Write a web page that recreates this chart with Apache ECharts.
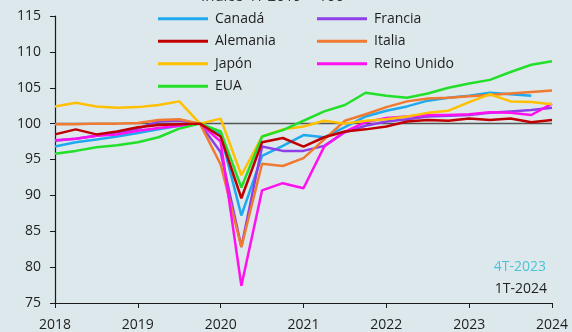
<!DOCTYPE html>
<html>
<head>
<meta charset="utf-8">
<script src="https://cdn.jsdelivr.net/npm/echarts@6/dist/echarts.min.js"></script>
<style>
  html, body { margin: 0; padding: 0; background: #dde8ec; }
  #chart { width: 572px; height: 332px; }
</style>
</head>
<body>
<div id="chart"></div>
<script>
// trimestres 1T-2018 ... 1T-2024 (índice 4T 2019 = 100)
const trimestres = [
  '1T-2018', '2T-2018', '3T-2018', '4T-2018',
  '1T-2019', '2T-2019', '3T-2019', '4T-2019',
  '1T-2020', '2T-2020', '3T-2020', '4T-2020',
  '1T-2021', '2T-2021', '3T-2021', '4T-2021',
  '1T-2022', '2T-2022', '3T-2022', '4T-2022',
  '1T-2023', '2T-2023', '3T-2023', '4T-2023',
  '1T-2024'
];

const canada = [96.8, 97.4, 97.8, 98.2, 98.7, 99.2, 99.7, 100, 98.5, 87.2, 95.5, 96.9, 98.4, 98.1, 99.5, 101.0, 101.8, 102.4, 103.2, 103.6, 103.9, 104.3, 104.1, 103.9, null];
const francia = [97.6, 97.9, 98.3, 98.8, 99.3, 100.3, 100.4, 100, 96.0, 82.8, 96.8, 96.2, 96.2, 96.9, 98.8, 99.7, 100.3, 100.6, 101.0, 101.1, 101.2, 101.5, 101.7, 101.9, 102.2];
const alemania = [98.5, 99.2, 98.5, 98.9, 99.5, 99.8, 99.9, 100, 98.2, 89.6, 97.4, 98.0, 96.8, 98.1, 98.9, 99.2, 99.6, 100.3, 100.5, 100.4, 100.7, 100.5, 100.7, 100.2, 100.5];
const italia = [99.9, 99.9, 100.0, 100.0, 100.1, 100.5, 100.6, 100, 94.3, 82.8, 94.4, 94.1, 95.2, 97.8, 100.4, 101.3, 102.3, 103.1, 103.5, 103.6, 103.8, 104.0, 104.2, 104.4, 104.6];
const japon = [102.4, 102.9, 102.4, 102.2, 102.3, 102.6, 103.1, 100, 100.7, 92.8, 98.2, 99.2, 99.6, 100.4, 100.0, 100.4, 100.6, 101.0, 101.5, 101.8, 103.0, 104.1, 103.1, 103.0, 102.7];
const reinoUnido = [97.7, 97.9, 98.3, 98.5, 99.0, 99.4, 99.7, 100, 97.5, 77.4, 90.7, 91.7, 91.0, 96.8, 98.9, 100.2, 100.8, 101.0, 101.2, 101.2, 101.3, 101.6, 101.5, 101.2, 102.8];
const eua = [95.8, 96.2, 96.7, 97.0, 97.4, 98.1, 99.3, 100, 98.9, 91.1, 98.2, 99.1, 100.4, 101.7, 102.6, 104.3, 103.9, 103.6, 104.2, 105.0, 105.6, 106.1, 107.2, 108.2, 108.7];

const chart = echarts.init(document.getElementById('chart'), null, { renderer: 'canvas' });

const FONT = '"Open Sans", Lato, sans-serif';

// helper para cada serie
const linea = (name, data, color) => ({
  name,
  type: 'line',
  data,
  symbol: 'none',
  smooth: false,
  connectNulls: false,
  lineStyle: { color, width: 2.5 },
  itemStyle: { color },
  emphasis: { disabled: true }
});

const legendComun = {
  orient: 'vertical',
  top: 4,
  icon: 'rect',
  itemWidth: 50,
  itemHeight: 3,
  itemGap: 2.8,
  textStyle: { color: '#1e1e1e', fontSize: 14, fontFamily: FONT, lineHeight: 19.7, padding: [0, 0, 0, 2] }
};

const option = {
  backgroundColor: '#dde8ec',
  animation: false,
  title: {
    text: 'Índice 4T 2019 = 100',
    left: 196,
    top: -16,
    textStyle: { color: '#333', fontSize: 15, fontWeight: 'normal', fontFamily: FONT }
  },
  legend: [
    Object.assign({ data: ['Canadá', 'Alemania', 'Japón', 'EUA'], left: 153 }, legendComun),
    Object.assign({ data: ['Francia', 'Italia', 'Reino Unido'], left: 312 }, legendComun)
  ],
  grid: { left: 55, right: 20, top: 16, bottom: 28 },
  xAxis: {
    type: 'category',
    data: trimestres,
    boundaryGap: false,
    axisLine: { lineStyle: { color: '#1a1a1a', width: 1.2 } },
    axisTick: { show: true, interval: 3, length: 5, lineStyle: { color: '#1a1a1a' } },
    axisLabel: {
      interval: 3,
      margin: 15,
      color: '#1e1e1e',
      fontSize: 14,
      fontFamily: FONT,
      formatter: (v) => v.slice(3)
    },
    splitLine: { show: false }
  },
  yAxis: {
    type: 'value',
    min: 75,
    max: 115,
    interval: 5,
    axisLine: { show: true, lineStyle: { color: '#1a1a1a', width: 1.2 } },
    axisTick: { show: true, length: 5, lineStyle: { color: '#1a1a1a' } },
    axisLabel: { color: '#1e1e1e', fontSize: 14, fontFamily: FONT, margin: 14 },
    splitLine: { show: false }
  },
  series: [
    Object.assign(linea('Canadá', canada, '#1FA9EE'), {
      markLine: {
        silent: true,
        symbol: 'none',
        label: { show: false },
        lineStyle: { color: '#555', width: 1.3, type: 'solid' },
        data: [{ yAxis: 100 }],
        z: 1
      }
    }),
    linea('Francia', francia, '#8E3FE8'),
    linea('Italia', italia, '#F07A30'),
    linea('Reino Unido', reinoUnido, '#FF10F0'),
    linea('Japón', japon, '#FFC000'),
    linea('EUA', eua, '#22E02A'),
    linea('Alemania', alemania, '#C00000')
  ],
  graphic: [
    {
      type: 'text',
      right: 26,
      top: 260,
      style: { text: '4T-2023', fill: '#4CC3D9', font: '14px ' + FONT }
    },
    {
      type: 'text',
      right: 25,
      top: 282,
      style: { text: '1T-2024', fill: '#1e1e1e', font: '14px ' + FONT }
    }
  ]
};

chart.setOption(option);
</script>
</body>
</html>
